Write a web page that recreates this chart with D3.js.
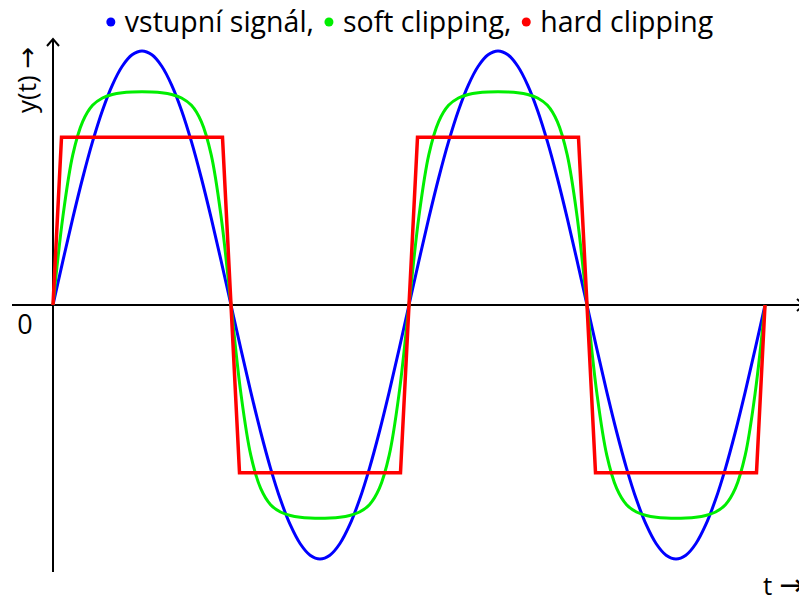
<!DOCTYPE html>
<html>
<head>
<meta charset="utf-8">
<script src="https://cdn.jsdelivr.net/npm/d3@7"></script>
<style>
  body { margin: 0; background: #fff; }
  text { font-family: "Open Sans", "Noto Sans", sans-serif; fill: #000; }
  .arrow { font-family: "DejaVu Sans", sans-serif; }
</style>
</head>
<body>
<div id="chart"></div>
<script>
// phase in degrees, two periods
const phase = d3.range(0, 721, 10);

const inputSignal = [
  0, 0.174, 0.342, 0.5, 0.643, 0.766, 0.866, 0.94, 0.985, 1, 0.985, 0.94, 0.866, 0.766, 0.643, 0.5, 0.342, 0.174,
  0, -0.174, -0.342, -0.5, -0.643, -0.766, -0.866, -0.94, -0.985, -1, -0.985, -0.94, -0.866, -0.766, -0.643, -0.5, -0.342, -0.174,
  0, 0.174, 0.342, 0.5, 0.643, 0.766, 0.866, 0.94, 0.985, 1, 0.985, 0.94, 0.866, 0.766, 0.643, 0.5, 0.342, 0.174,
  0, -0.174, -0.342, -0.5, -0.643, -0.766, -0.866, -0.94, -0.985, -1, -0.985, -0.94, -0.866, -0.766, -0.643, -0.5, -0.342, -0.174,
  0
];

const softClip = [
  0, 0.348, 0.591, 0.722, 0.786, 0.815, 0.829, 0.836, 0.839, 0.84, 0.839, 0.836, 0.829, 0.815, 0.786, 0.722, 0.591, 0.348,
  0, -0.348, -0.591, -0.722, -0.786, -0.815, -0.829, -0.836, -0.839, -0.84, -0.839, -0.836, -0.829, -0.815, -0.786, -0.722, -0.591, -0.348,
  0, 0.348, 0.591, 0.722, 0.786, 0.815, 0.829, 0.836, 0.839, 0.84, 0.839, 0.836, 0.829, 0.815, 0.786, 0.722, 0.591, 0.348,
  0, -0.348, -0.591, -0.722, -0.786, -0.815, -0.829, -0.836, -0.839, -0.84, -0.839, -0.836, -0.829, -0.815, -0.786, -0.722, -0.591, -0.348,
  0
];

const hardPhase = [0, 8.6, 171.4, 188.6, 351.4, 368.6, 531.4, 548.6, 711.4, 720];
const hardClip  = [0, 0.66, 0.66, -0.66, -0.66, 0.66, 0.66, -0.66, -0.66, 0];

const legendNames = ["vstupní signál,", "soft clipping,", "hard clipping"];
const legendColors = ["#0000ff", "#00ee00", "#ff0000"];

const width = 799, height = 599;

const svg = d3.select("#chart")
  .append("svg")
  .attr("width", width)
  .attr("height", height);

const x = d3.scaleLinear()
  .domain([0, 720])
  .range([53, 765]);

const y = d3.scaleLinear()
  .domain([-1, 1])
  .range([559, 51]);

// axes
svg.append("line")
  .attr("x1", 12).attr("x2", 806)
  .attr("y1", y(0)).attr("y2", y(0))
  .attr("stroke", "#000").attr("stroke-width", 2);

svg.append("line")
  .attr("x1", x(0)).attr("x2", x(0))
  .attr("y1", 572).attr("y2", 39)
  .attr("stroke", "#000").attr("stroke-width", 2);

svg.append("path")
  .attr("d", `M${x(0) - 6},${46} L${x(0)},${39} L${x(0) + 6},${46}`)
  .attr("fill", "none").attr("stroke", "#000").attr("stroke-width", 2);

svg.append("path")
  .attr("d", `M${797},${y(0) - 6} L${804},${y(0)} L${797},${y(0) + 6}`)
  .attr("fill", "none").attr("stroke", "#000").attr("stroke-width", 2);

svg.append("text")
  .attr("x", 25).attr("y", 334)
  .attr("text-anchor", "middle")
  .attr("font-size", 27)
  .text("0");

const yLabel = svg.append("text")
  .attr("transform", "translate(36,113) rotate(-90)")
  .attr("font-size", 26);
yLabel.append("tspan").text("y(t) ");
yLabel.append("tspan").attr("class", "arrow").text("→");

const tLabel = svg.append("text")
  .attr("x", 763).attr("y", 595)
  .attr("font-size", 26);
tLabel.append("tspan").text("t ");
tLabel.append("tspan").attr("class", "arrow").attr("font-size", 30).text("→");

// curves
const smooth = d3.line()
  .x((d, i) => x(phase[i]))
  .y(d => y(d))
  .curve(d3.curveCatmullRom);

svg.append("path")
  .attr("d", smooth(inputSignal))
  .attr("fill", "none")
  .attr("stroke", legendColors[0])
  .attr("stroke-width", 3);

svg.append("path")
  .attr("d", smooth(softClip))
  .attr("fill", "none")
  .attr("stroke", legendColors[1])
  .attr("stroke-width", 3);

const sharp = d3.line()
  .x((d, i) => x(hardPhase[i]))
  .y(d => y(d));

svg.append("path")
  .attr("d", sharp(hardClip))
  .attr("fill", "none")
  .attr("stroke", legendColors[2])
  .attr("stroke-width", 3.5);

// legend
const legend = svg.append("g");
let cursor = 0;
legendNames.forEach((name, i) => {
  const item = legend.append("g").attr("transform", `translate(${cursor},0)`);
  item.append("circle")
    .attr("cx", 0).attr("cy", 22).attr("r", 4.5)
    .attr("fill", legendColors[i]);
  const label = item.append("text")
    .attr("x", 14).attr("y", 32)
    .attr("font-size", 28.5)
    .text(name);
  cursor += 14 + label.node().getComputedTextLength() + 15;
});
const legendWidth = cursor - 15;
legend.attr("transform", `translate(${410 - legendWidth / 2 + 2},0)`);
</script>
</body>
</html>
